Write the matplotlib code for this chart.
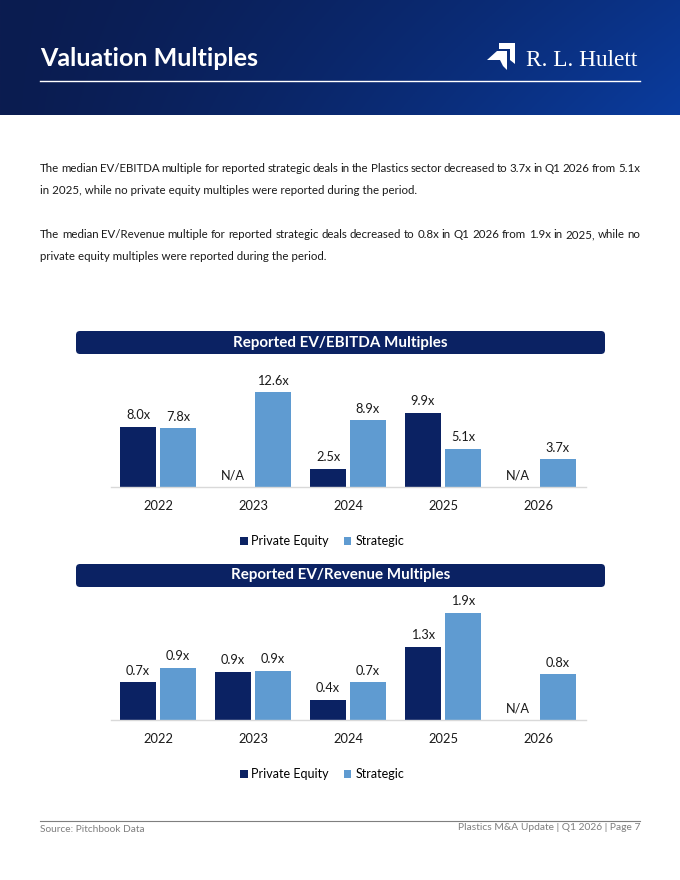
import numpy as np
import matplotlib.pyplot as plt
from matplotlib.patches import FancyBboxPatch, Polygon

# ---- data ----
years = ["2022", "2023", "2024", "2025", "2026"]
ebitda_pe = [8.0, np.nan, 2.46, 9.88, np.nan]
ebitda_strategic = [7.78, 12.6, 8.9, 5.06, 3.66]
revenue_pe = [0.67, 0.851, 0.355, 1.30, np.nan]
revenue_strategic = [0.92, 0.87, 0.67, 1.90, 0.81]

para1 = ("The median EV/EBITDA multiple for reported strategic deals in the Plastics sector "
         "decreased to 3.7x in Q1 2026 from 5.1x",
         "in 2025, while no private equity multiples were reported during the period.")
para2 = ("The median EV/Revenue multiple for reported strategic deals decreased to 0.8x in "
         "Q1 2026 from 1.9x in 2025, while no",
         "private equity multiples were reported during the period.")

NAVY = "#0b2263"
LIGHT = "#5f9bd1"
FONT = "Lato"

W, H = 680, 880
fig = plt.figure(figsize=(W / 100, H / 100), dpi=100)
fig.patch.set_facecolor("white")

# page overlay in pixel coords
page = fig.add_axes([0, 0, 1, 1])
page.set_xlim(0, W)
page.set_ylim(H, 0)
page.axis("off")

# header gradient
gx = np.linspace(0, 1, 300)
gy = np.linspace(0, 1, 60)
gxx, gyy = np.meshgrid(gx, gy)
t = np.clip(0.75 * gxx ** 1.4 + 0.25 * gyy * gxx, 0, 1)[..., None]
c0 = np.array([0x0b, 0x1c, 0x50]) / 255
c1 = np.array([0x0a, 0x3c, 0x9e]) / 255
grad = c0 * (1 - t) + c1 * t
page.imshow(grad, extent=(0, W, 115, 0), aspect="auto", zorder=0)

page.text(40, 58, "Valuation Multiples", color="white", fontsize=18,
          fontweight="bold", family=FONT, va="center", ha="left", zorder=2)
page.plot([40, 640], [81, 81], color="white", lw=1, zorder=2)

# logo mark
page.add_patch(Polygon([(499, 43), (515, 43), (515, 64), (510, 60), (510, 49), (499, 49)],
                       closed=True, fc="white", ec="none", zorder=2))
page.add_patch(Polygon([(487, 60), (497, 51), (507, 51), (507, 70), (503, 66), (500, 60)],
                       closed=True, fc="white", ec="none", zorder=2))
page.text(526, 60, "R. L. Hulett", color="white", fontsize=16.8, family="Liberation Serif",
          va="center", ha="left", zorder=2)

fig.canvas.draw()
renderer = fig.canvas.get_renderer()


def justified_line(y, text, x0=40, x1=640, size=8.3, justify=True):
    if not justify:
        page.text(x0, y, text, fontsize=size, family=FONT, color="#1a1a1a",
                  va="center", ha="left")
        return
    words = text.split()
    widths = []
    for w_ in words:
        tt = page.text(0, 0, w_, fontsize=size, family=FONT)
        bb = tt.get_window_extent(renderer)
        widths.append(bb.width)
        tt.remove()
    gap = (x1 - x0 - sum(widths)) / (len(words) - 1)
    x = x0
    for w_, wd in zip(words, widths):
        page.text(x, y, w_, fontsize=size, family=FONT, color="#1a1a1a",
                  va="center", ha="left")
        x += wd + gap


justified_line(169, para1[0])
justified_line(190, para1[1], justify=False)
justified_line(235, para2[0])
justified_line(257, para2[1], justify=False)


def title_bar(y0, y1, label):
    page.add_patch(FancyBboxPatch((76, y0), 529, y1 - y0,
                                  boxstyle="round,pad=0,rounding_size=4",
                                  fc=NAVY, ec="none", zorder=1))
    page.text(340.5, (y0 + y1) / 2, label, color="white", fontsize=10.9,
              fontweight="bold", family=FONT, ha="center", va="center", zorder=2)


title_bar(331, 354, "Reported EV/EBITDA Multiples")
title_bar(564, 587, "Reported EV/Revenue Multiples")


def bar_chart(top_px, base_px, ymax, pe, strat, legend_y):
    ax = fig.add_axes([110.5 / W, 1 - base_px / H, 475 / W, (base_px - top_px) / H])
    ax.patch.set_alpha(0)
    x = np.arange(len(years))
    width = 0.385
    off = 0.21
    b1 = ax.bar(x - off, np.nan_to_num(pe), width, color=NAVY, label="Private Equity")
    b2 = ax.bar(x + off, strat, width, color=LIGHT, label="Strategic")
    for xs, vals in ((x - off, pe), (x + off, strat)):
        for xi, v in zip(xs, vals):
            lab = "N/A" if np.isnan(v) else f"{v:.1f}x"
            yv = 0 if np.isnan(v) else v
            ax.annotate(lab, (xi, yv), xytext=(0, 4), textcoords="offset points",
                        ha="center", va="bottom", fontsize=9.2, family=FONT,
                        color="#1a1a1a", annotation_clip=False)
    ax.set_xlim(-0.5, len(years) - 0.5)
    ax.set_ylim(0, ymax)
    ax.set_yticks([])
    ax.set_xticks(x, years)
    ax.tick_params(axis="x", length=0, pad=9.5, labelsize=9.3, labelcolor="#1a1a1a")
    for lb in ax.get_xticklabels():
        lb.set_family(FONT)
    for s in ("top", "left", "right"):
        ax.spines[s].set_visible(False)
    ax.spines["bottom"].set_color("#d9d9d9")
    ax.spines["bottom"].set_linewidth(1)
    ax.legend(handles=[b1, b2], loc="center", bbox_to_anchor=(322 / W, 1 - legend_y / H),
              bbox_transform=fig.transFigure, ncol=2, frameon=False,
              handlelength=0.6, handleheight=0.6, handletextpad=0.3, columnspacing=1.2,
              prop={"family": FONT, "size": 9})
    return ax


bar_chart(370, 487, 117 / 7.52, ebitda_pe, ebitda_strategic, 541)
bar_chart(600, 720, 120 / 56.5, revenue_pe, revenue_strategic, 774)

# footer
page.plot([40, 640], [821, 821], color="#7f7f7f", lw=0.8)
page.text(40, 830, "Source: Pitchbook Data", fontsize=7.3, family=FONT, color="#7f7f7f",
          ha="left", va="center")
page.text(640, 828, "Plastics M&A Update | Q1 2026 | Page 7", fontsize=7.4, family=FONT,
          color="#7f7f7f", ha="right", va="center")

fig.savefig("out.png", dpi=100, facecolor="white")
